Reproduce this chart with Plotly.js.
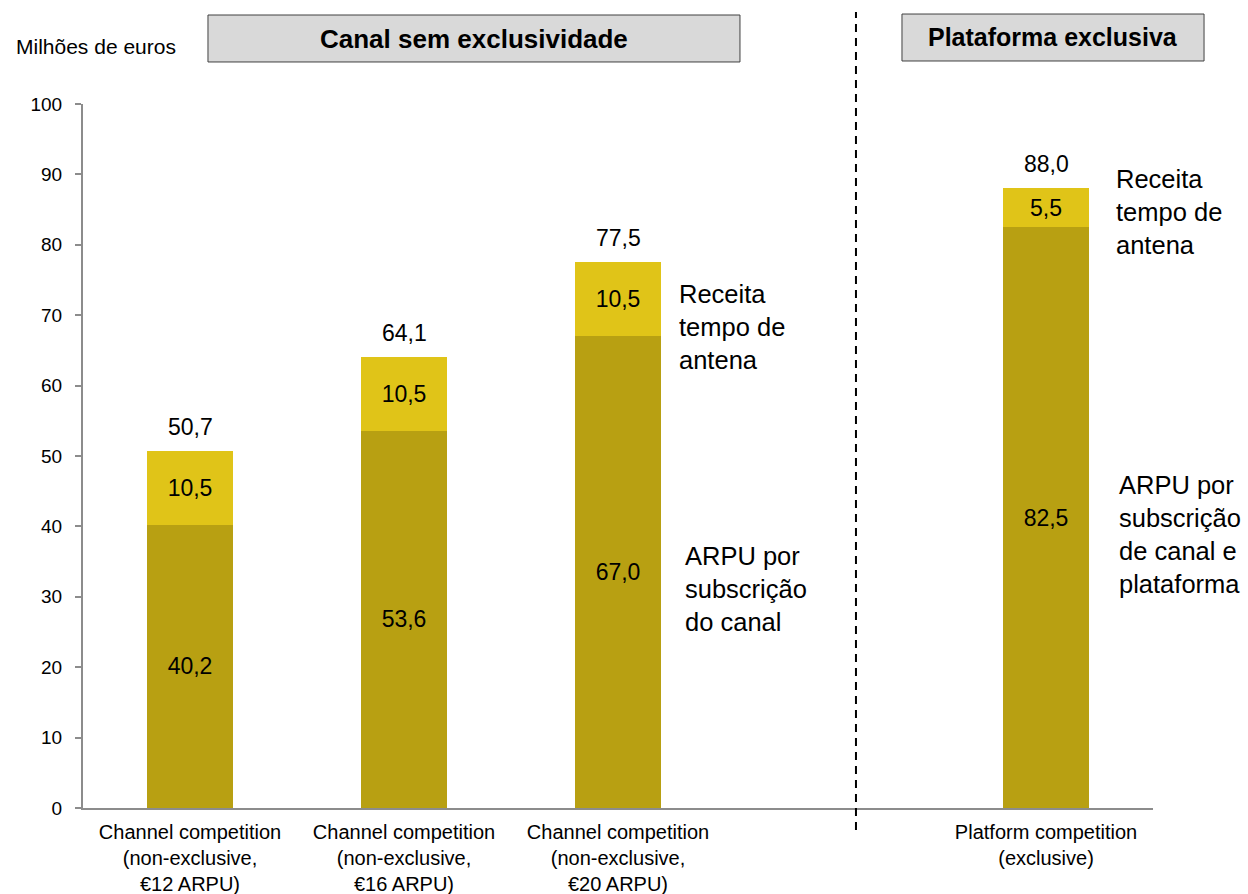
<!DOCTYPE html>
<html>
<head>
<meta charset="utf-8">
<script src="https://cdn.plot.ly/plotly-3.0.1.min.js"></script>
<style>html,body{margin:0;padding:0;background:#fff;}#chart{width:1248px;height:894px;}</style>
</head>
<body>
<div id="chart"></div>
<script>
// Data
var positions = [0, 1, 2, 4];
var categories = [
  "Channel competition<br>(non-exclusive,<br>€12 ARPU)",
  "Channel competition<br>(non-exclusive,<br>€16 ARPU)",
  "Channel competition<br>(non-exclusive,<br>€20 ARPU)",
  "Platform competition<br>(exclusive)"
];
var arpu = [40.2, 53.6, 67.0, 82.5];
var airtime = [10.5, 10.5, 10.5, 5.5];
var totals = [50.7, 64.1, 77.5, 88.0];
var yTicks = [0, 10, 20, 30, 40, 50, 60, 70, 80, 90, 100];

function fmt(v) { return v.toFixed(1).replace('.', ','); }

var FONT = "Arial, 'Liberation Sans', sans-serif";

var traces = [
  {
    type: 'bar', x: positions, y: arpu, width: 0.4,
    marker: {color: '#B8A012'},
    text: arpu.map(fmt), textposition: 'inside', insidetextanchor: 'middle',
    textangle: 0,
    textfont: {family: FONT, size: 23, color: '#000'},
    hoverinfo: 'none', name: 'ARPU'
  },
  {
    type: 'bar', x: positions, y: airtime, width: 0.4,
    marker: {color: '#E0C418'},
    text: airtime.map(fmt), textposition: 'inside', insidetextanchor: 'middle',
    textangle: 0,
    textfont: {family: FONT, size: 23, color: '#000'},
    hoverinfo: 'none', name: 'Receita'
  }
];

var annotations = [];
for (var i = 0; i < positions.length; i++) {
  annotations.push({
    x: positions[i], y: totals[i], xref: 'x', yref: 'y',
    text: fmt(totals[i]), showarrow: false, yanchor: 'middle', yshift: 24,
    font: {family: FONT, size: 23, color: '#000'}
  });
}
var sideFont = {family: FONT, size: 25.5, color: '#000'};
annotations.push(
  {x: 2.276, y: 68.3, xref: 'x', yref: 'y', xanchor: 'left', yanchor: 'middle', align: 'left',
   text: 'Receita<br>tempo de<br>antena', showarrow: false, font: sideFont},
  {x: 2.304, y: 31.1, xref: 'x', yref: 'y', xanchor: 'left', yanchor: 'middle', align: 'left',
   text: 'ARPU por<br>subscrição<br>do canal', showarrow: false, font: sideFont},
  {x: 4.318, y: 84.7, xref: 'x', yref: 'y', xanchor: 'left', yanchor: 'middle', align: 'left',
   text: 'Receita<br>tempo de<br>antena', showarrow: false, font: sideFont},
  {x: 4.332, y: 38.8, xref: 'x', yref: 'y', xanchor: 'left', yanchor: 'middle', align: 'left',
   text: 'ARPU por<br>subscrição<br>de canal e<br>plataforma', showarrow: false, font: sideFont},
  {x: -0.0645, y: 1.081, xref: 'paper', yref: 'paper', xanchor: 'left', yanchor: 'middle',
   text: 'Milhões de euros', showarrow: false, font: {family: FONT, size: 21, color: '#000'}},
  {x: 0.3654, y: 1.093, xref: 'paper', yref: 'paper', xanchor: 'center', yanchor: 'middle',
   text: '<b>Canal sem exclusividade</b>', showarrow: false, font: {family: FONT, size: 26, color: '#000'}},
  {x: 0.9065, y: 1.0945, xref: 'paper', yref: 'paper', xanchor: 'center', yanchor: 'middle',
   text: '<b>Plataforma exclusiva</b>', showarrow: false, font: {family: FONT, size: 25, color: '#000'}}
);

var shapes = [
  {type: 'rect', xref: 'paper', yref: 'paper', x0: 0.1168, x1: 0.614, y0: 1.0597, y1: 1.1264,
   fillcolor: '#D9D9D9', line: {color: '#404040', width: 1}, layer: 'below'},
  {type: 'rect', xref: 'paper', yref: 'paper', x0: 0.7654, x1: 1.0477, y0: 1.0611, y1: 1.1278,
   fillcolor: '#D9D9D9', line: {color: '#404040', width: 1}, layer: 'below'},
  {type: 'line', xref: 'x', yref: 'paper', x0: 3.112, x1: 3.112, y0: -0.03125, y1: 1.1307,
   line: {color: '#000', width: 2, dash: '8px,6px'}}
];

var layout = {
  width: 1248, height: 894,
  margin: {l: 83, r: 95, t: 104, b: 86, pad: 0},
  paper_bgcolor: '#fff', plot_bgcolor: '#fff',
  barmode: 'stack', showlegend: false,
  separators: ',.',
  font: {family: FONT, color: '#000'},
  xaxis: {
    range: [-0.5, 4.5], tickvals: positions, ticktext: categories,
    showline: true, linecolor: '#8C8C8C', linewidth: 2, ticks: '', zeroline: false,
    showgrid: false, tickfont: {family: FONT, size: 20, color: '#000'},
    ticklabelstandoff: 5, fixedrange: true
  },
  yaxis: {
    range: [0, 100], tickvals: yTicks, ticktext: yTicks.map(String),
    showline: true, linecolor: '#8C8C8C', linewidth: 2, ticks: 'outside', ticklen: 6,
    tickcolor: '#8C8C8C', tickwidth: 2, showgrid: false, zeroline: false,
    tickfont: {family: FONT, size: 19, color: '#000'}, ticklabelstandoff: 9, fixedrange: true
  },
  annotations: annotations,
  shapes: shapes
};

Plotly.newPlot('chart', traces, layout, {displayModeBar: false, staticPlot: true});
</script>
</body>
</html>
